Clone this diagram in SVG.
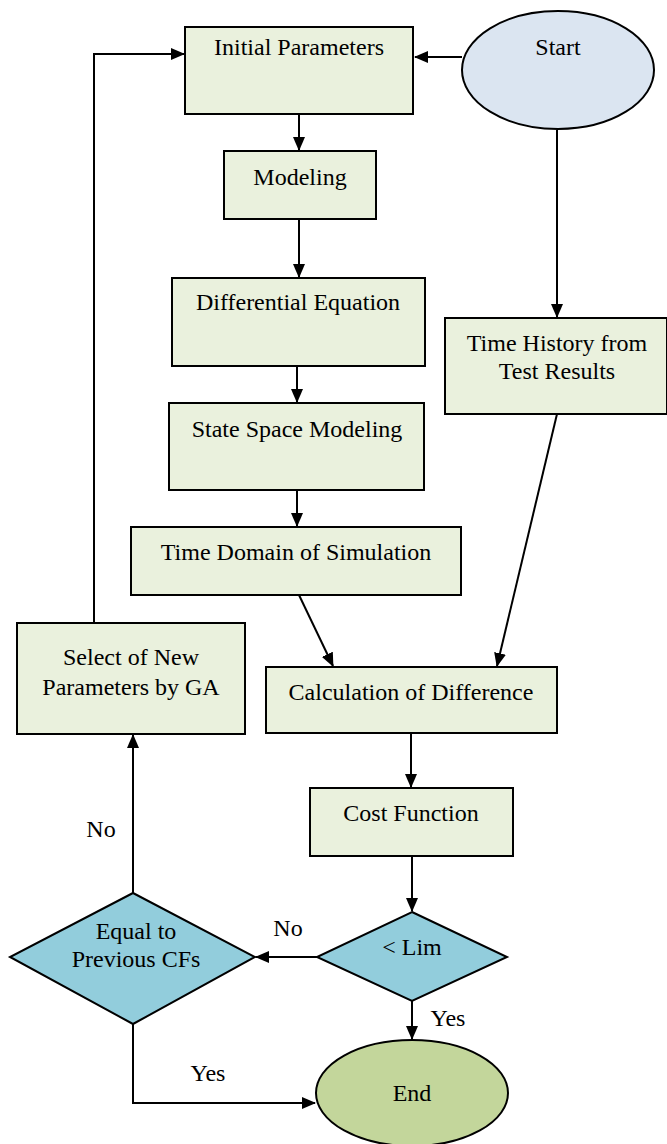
<svg xmlns="http://www.w3.org/2000/svg" width="667" height="1144" viewBox="0 0 667 1144">
<style>
.box{fill:#EAF1DD;stroke:#000;stroke-width:2}
.dia{fill:#92CDDC;stroke:#000;stroke-width:2}
.t{font-family:"Liberation Serif","Times New Roman",serif;font-size:24px;fill:#000;text-anchor:middle}
.c{fill:none;stroke:#000;stroke-width:2}
</style>
<defs>
<marker id="ah" markerWidth="14" markerHeight="12" refX="13" refY="6" orient="auto" markerUnits="userSpaceOnUse" viewBox="0 0 14 12">
<path d="M0,0 L14,6 L0,12 z" fill="#000"/>
</marker>
</defs>
<rect width="667" height="1144" fill="#fff"/>
<g id="connectors">
<line class="c" x1="462" y1="57" x2="415" y2="57" marker-end="url(#ah)"/>
<polyline class="c" points="94,623 94,54 184,54" marker-end="url(#ah)"/>
<line class="c" x1="299" y1="114" x2="299" y2="150" marker-end="url(#ah)"/>
<line class="c" x1="299" y1="219" x2="299" y2="277" marker-end="url(#ah)"/>
<line class="c" x1="297" y1="366" x2="297" y2="402" marker-end="url(#ah)"/>
<line class="c" x1="297" y1="490" x2="297" y2="526" marker-end="url(#ah)"/>
<line class="c" x1="299" y1="595" x2="333" y2="666" marker-end="url(#ah)"/>
<line class="c" x1="557" y1="130" x2="557" y2="317" marker-end="url(#ah)"/>
<line class="c" x1="557" y1="414" x2="497" y2="666" marker-end="url(#ah)"/>
<line class="c" x1="411" y1="733" x2="411" y2="787" marker-end="url(#ah)"/>
<line class="c" x1="412" y1="856" x2="412" y2="911" marker-end="url(#ah)"/>
<line class="c" x1="317" y1="957" x2="256" y2="957" marker-end="url(#ah)"/>
<line class="c" x1="412" y1="1001" x2="412" y2="1039" marker-end="url(#ah)"/>
<line class="c" x1="133" y1="893" x2="133" y2="735" marker-end="url(#ah)"/>
<polyline class="c" points="133,1024 133,1103 315,1103" marker-end="url(#ah)"/>
<text class="t" x="288" y="936">No</text>
<text class="t" x="448" y="1026">Yes</text>
<text class="t" x="101" y="837">No</text>
<text class="t" x="208" y="1081">Yes</text>
</g>
<g id="start">
<ellipse cx="558" cy="70" rx="96" ry="59" fill="#DBE5F1" stroke="#000" stroke-width="2"/>
<text class="t" x="558" y="55">Start</text>
</g>
<g id="initial">
<rect class="box" x="185" y="27" width="228" height="87"/>
<text class="t" x="299" y="55">Initial Parameters</text>
</g>
<g id="modeling">
<rect class="box" x="224" y="151" width="152" height="68"/>
<text class="t" x="300" y="185">Modeling</text>
</g>
<g id="diffeq">
<rect class="box" x="172" y="278" width="253" height="88"/>
<text class="t" x="298" y="310">Differential Equation</text>
</g>
<g id="ssm">
<rect class="box" x="169" y="403" width="255" height="87"/>
<text class="t" x="297" y="437">State Space Modeling</text>
</g>
<g id="tds">
<rect class="box" x="131" y="527" width="330" height="68"/>
<text class="t" x="296" y="560">Time Domain of Simulation</text>
</g>
<g id="history">
<rect class="box" x="445" y="318" width="222" height="96"/>
<text class="t" x="557" y="351">Time History from</text>
<text class="t" x="557" y="379">Test Results</text>
</g>
<g id="select">
<rect class="box" x="17" y="623" width="228" height="111"/>
<text class="t" x="131" y="665">Select of New</text>
<text class="t" x="131" y="695">Parameters by GA</text>
</g>
<g id="calc">
<rect class="box" x="266" y="667" width="291" height="66"/>
<text class="t" x="411" y="700">Calculation of Difference</text>
</g>
<g id="cost">
<rect class="box" x="310" y="788" width="203" height="68"/>
<text class="t" x="411" y="821">Cost Function</text>
</g>
<g id="lim">
<polygon class="dia" points="412,912 507,957 412,1001 317,957"/>
<text class="t" x="412" y="955">&lt; Lim</text>
</g>
<g id="equal">
<polygon class="dia" points="133,893 255,957 133,1024 10,957"/>
<text class="t" x="136" y="939">Equal to</text>
<text class="t" x="136" y="967">Previous CFs</text>
</g>
<g id="end">
<ellipse cx="412" cy="1093" rx="96" ry="53" fill="#C3D69B" stroke="#000" stroke-width="2"/>
<text class="t" x="412" y="1101">End</text>
</g>
</svg>
